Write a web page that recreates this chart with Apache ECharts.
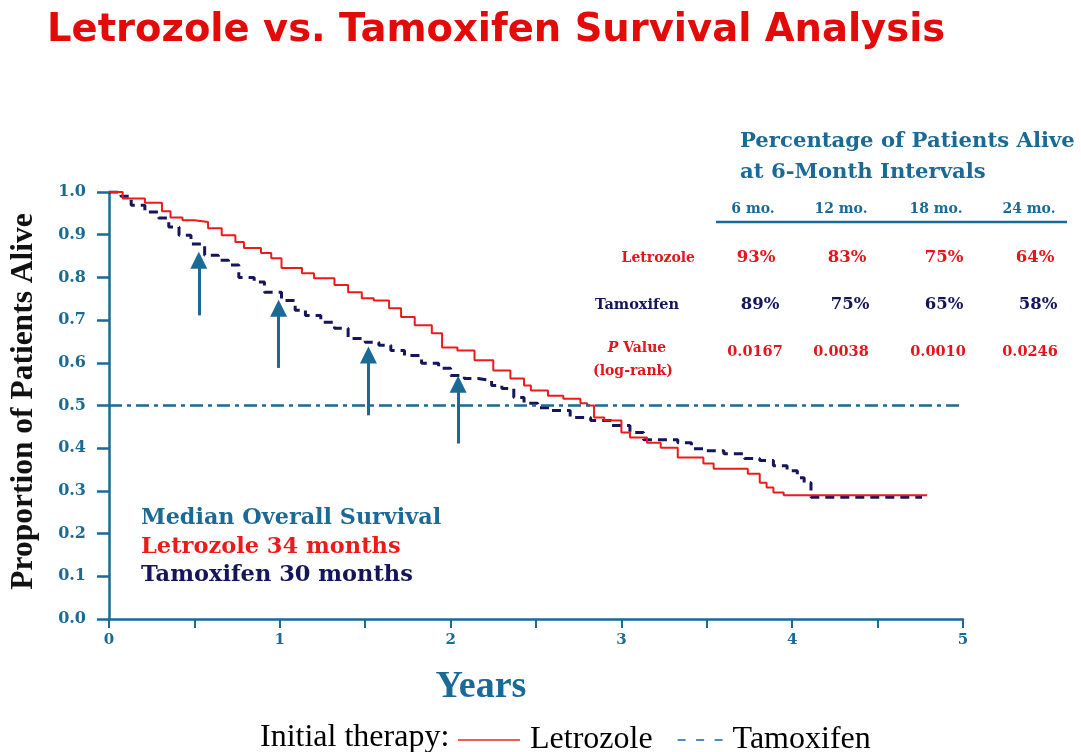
<!DOCTYPE html>
<html>
<head>
<meta charset="utf-8">
<script src="https://cdn.jsdelivr.net/npm/echarts@6/dist/echarts.min.js"></script>
<style>html,body{margin:0;padding:0;background:#fff;}#c{width:1081px;height:752px;}</style>
</head>
<body>
<div id="c"></div>
<script>
// ---- data ----
const letrozoleTime = [0,0.08,0.21,0.31,0.36,0.43,0.5,0.58,0.66,0.74,0.79,0.89,0.95,1.01,1.13,1.2,1.32,1.4,1.48,1.55,1.64,1.71,1.79,1.89,1.95,2.04,2.14,2.25,2.35,2.43,2.47,2.57,2.66,2.76,2.8,2.84,2.9,3.0,3.05,3.15,3.23,3.33,3.48,3.54,3.74,3.81,3.85,3.89,3.95,4.79];
const letrozoleSurv = [1.0,0.985,0.975,0.955,0.94,0.934,0.93,0.915,0.899,0.883,0.869,0.857,0.845,0.822,0.81,0.798,0.782,0.765,0.751,0.746,0.728,0.707,0.688,0.669,0.636,0.629,0.606,0.582,0.563,0.547,0.535,0.523,0.516,0.505,0.5,0.472,0.465,0.437,0.425,0.413,0.401,0.378,0.364,0.352,0.34,0.319,0.308,0.296,0.29,0.289];
const tamoxifenTime = [0,0.07,0.13,0.21,0.29,0.35,0.41,0.48,0.56,0.64,0.7,0.76,0.85,0.91,1.01,1.09,1.15,1.24,1.32,1.4,1.5,1.58,1.65,1.73,1.83,1.93,2.0,2.08,2.16,2.24,2.3,2.37,2.43,2.51,2.59,2.7,2.82,2.94,3.05,3.13,3.33,3.41,3.5,3.6,3.72,3.81,3.89,3.97,4.03,4.07,4.11,4.76];
const tamoxifenSurv = [1.0,0.99,0.969,0.953,0.939,0.918,0.899,0.878,0.852,0.84,0.829,0.8,0.789,0.765,0.746,0.723,0.711,0.695,0.681,0.657,0.648,0.641,0.629,0.617,0.599,0.587,0.57,0.563,0.559,0.547,0.54,0.519,0.505,0.495,0.488,0.472,0.465,0.453,0.437,0.42,0.413,0.399,0.394,0.387,0.376,0.371,0.359,0.347,0.331,0.319,0.285,0.284];
const medianLine = 0.5;
const arrowYears = [0.526, 0.993, 1.519, 2.044];
const arrowFrom = [0.711, 0.588, 0.477, 0.411];
const arrowTo = [0.84, 0.728, 0.618, 0.55];
const periods = ['6 mo.', '12 mo.', '18 mo.', '24 mo.'];
const letrozolePct = [93, 83, 75, 64];
const tamoxifenPct = [89, 75, 65, 58];
const pValues = ['0.0167', '0.0038', '0.0010', '0.0246'];
const yTicks = [0,0.1,0.2,0.3,0.4,0.5,0.6,0.7,0.8,0.9,1.0];
const xTicks = [0,1,2,3,4,5];

// ---- styles ----
const TEAL = '#1b6a96', NAVY = '#15155a', RED = '#ec1b1b', TRED = '#e3161c';
const SERIF = '"DejaVu Serif"';
const boldSerif = (s) => 'bold ' + s + 'px ' + SERIF;

const pair = (t, s) => t.map((v, i) => [v, s[i]]);

const graphics = [];
function txt(text, x, y, font, fill, align) {
  graphics.push({type:'text', x:x, y:y, silent:true,
    style:{text:text, font:font, fill:fill, align:align||'center', verticalAlign:'middle'}});
}
// table
txt('Percentage of Patients Alive', 740, 141, boldSerif(21.2), TEAL, 'left');
txt('at 6-Month Intervals', 740, 172, boldSerif(21.2), TEAL, 'left');
const headerX = [753, 841, 936, 1029];
const letX = [756, 847, 944, 1035];
const tamX = [760, 850, 944, 1038];
const pX = [755, 841, 938, 1030];
periods.forEach((p, i) => txt(p, headerX[i], 209, boldSerif(14), TEAL));
graphics.push({type:'line', silent:true, shape:{x1:716, y1:222, x2:1067, y2:222}, style:{stroke:TEAL, lineWidth:2.5}});
txt('Letrozole', 695, 258, boldSerif(14), TRED, 'right');
letrozolePct.forEach((v, i) => txt(v + '%', letX[i], 258, boldSerif(16.5), TRED));
txt('Tamoxifen', 679, 305, boldSerif(14.5), NAVY, 'right');
tamoxifenPct.forEach((v, i) => txt(v + '%', tamX[i], 305, boldSerif(16.5), NAVY));
graphics.push({type:'text', x:637, y:348, silent:true, style:{
  text:'{i|P} Value', font:boldSerif(14), fill:TRED, align:'center', verticalAlign:'middle',
  rich:{i:{fontStyle:'italic', fontWeight:'bold', fontFamily:SERIF, fontSize:14, fill:TRED}}}});
txt('(log-rank)', 633, 371, boldSerif(14), TRED);
pValues.forEach((v, i) => txt(v, pX[i], 352, boldSerif(14.5), TRED));
// median
txt('Median Overall Survival', 141, 518, boldSerif(22.3), TEAL, 'left');
txt('Letrozole 34 months', 141, 547, boldSerif(22.5), RED, 'left');
txt('Tamoxifen 30 months', 141, 575, boldSerif(22.5), NAVY, 'left');
// legend prefix
txt('Initial therapy:', 260, 738, '32px "Liberation Serif"', '#000', 'left');

const chart = echarts.init(document.getElementById('c'));
chart.setOption({
  animation: false,
  backgroundColor: '#fff',
  title: {
    text: 'Letrozole vs. Tamoxifen Survival Analysis',
    left: 42, top: 6,
    textStyle: {fontFamily: '"DejaVu Sans"', fontWeight: 'bold', fontSize: 38.5, color: '#e30a0a'}
  },
  legend: {
    left: 453, top: 719,
    itemWidth: 62, itemHeight: 2, itemGap: 8,
    textStyle: {fontFamily: '"Liberation Serif"', fontSize: 32, color: '#000', padding:[0,0,0,5]},
    data: [
      {name: 'Letrozole', icon: 'rect', itemStyle: {color: '#f25a5a'}},
      {name: 'Tamoxifen', icon: 'path://M0,0h0.01v0.01zM17,0h8v2h-8zM35.5,0h8v2h-8zM54,0h8v2h-8z', itemStyle: {color: '#4f86c6'}}
    ]
  },
  grid: {left: 107, right: 118, top: 192, height: 427},
  xAxis: {
    type: 'value', min: 0, max: 5, interval: 0.5,
    axisLine: {lineStyle: {color: TEAL, width: 2.5}},
    axisTick: {length: 9, lineStyle: {color: TEAL, width: 2}},
    axisLabel: {margin: 14, color: TEAL, fontFamily: SERIF, fontWeight: 'bold', fontSize: 15,
      formatter: (v) => xTicks.indexOf(v) >= 0 ? String(v) : ''},
    splitLine: {show: false},
    name: 'Years', nameLocation: 'middle', nameGap: 49,
    nameTextStyle: {fontFamily: '"Liberation Serif"', fontWeight: 'bold', fontSize: 38, color: TEAL, padding: [0, 110, 0, 0]}
  },
  yAxis: {
    type: 'value', min: 0, max: 1, interval: 0.1,
    axisLine: {show: true, lineStyle: {color: TEAL, width: 2.5}},
    axisTick: {show: true, length: 12, lineStyle: {color: TEAL, width: 2.5}},
    axisLabel: {margin: 23, color: TEAL, fontFamily: SERIF, fontWeight: 'bold', fontSize: 16,
      formatter: (v) => yTicks.some(t => Math.abs(t - v) < 1e-9) ? v.toFixed(1) : ''},
    splitLine: {show: false},
    name: 'Proportion of Patients Alive', nameLocation: 'middle', nameGap: 69, nameRotate: 90,
    nameTextStyle: {fontFamily: '"Liberation Serif"', fontWeight: 'bold', fontSize: 31.5, color: '#111', padding: [0, 0, 0, 8]}
  },
  graphic: graphics,
  series: [
    {
      name: 'Letrozole', type: 'line', step: 'end', symbol: 'none', z: 3,
      lineStyle: {color: RED, width: 2}, itemStyle: {color: RED},
      data: pair(letrozoleTime, letrozoleSurv),
      markLine: {
        silent: true, symbol: ['none', 'none'], label: {show: false},
        lineStyle: {color: TEAL, width: 2.5, type: [13, 5, 4, 5]},
        data: [{yAxis: medianLine}]
      }
    },
    {
      name: 'Tamoxifen', type: 'line', step: 'end', symbol: 'none', z: 2,
      lineStyle: {color: NAVY, width: 3, type: [9, 6]}, itemStyle: {color: NAVY},
      data: pair(tamoxifenTime, tamoxifenSurv),
      markLine: {
        silent: true, symbol: ['none', 'triangle'], symbolSize: [17, 17], label: {show: false},
        lineStyle: {color: TEAL, width: 3, type: 'solid'},
        data: arrowYears.map((x, i) => [{coord: [x, arrowFrom[i]]}, {coord: [x, arrowTo[i]]}])
      }
    }
  ]
});
</script>
</body>
</html>
